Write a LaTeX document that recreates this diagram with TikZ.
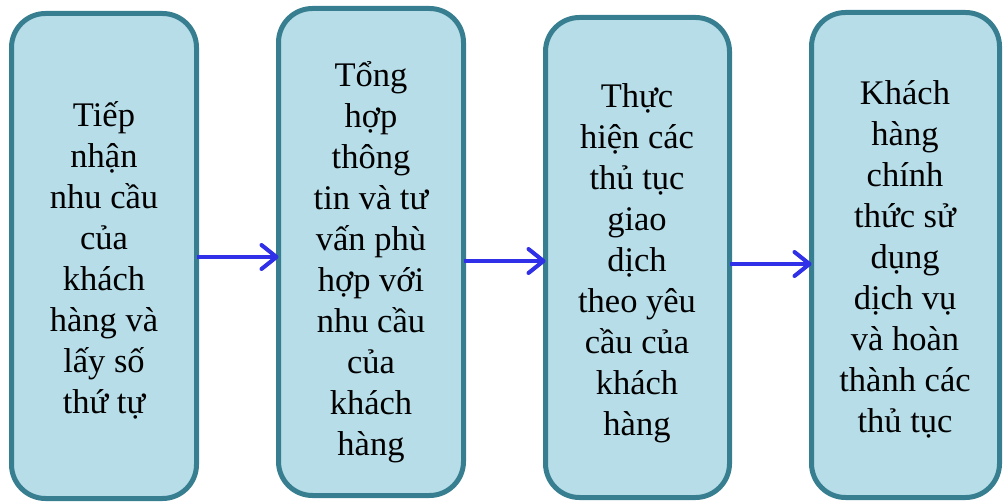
\documentclass[tikz,border=0pt]{standalone}
\usepackage{fontspec}
\setmainfont{Liberation Serif}
\usetikzlibrary{arrows.meta}
\definecolor{boxfill}{HTML}{B7DDE8}
\definecolor{boxline}{HTML}{377F90}
\definecolor{arrowblue}{HTML}{3030E8}
\tikzset{
  stepbox/.style={draw=boxline, fill=boxfill, line width=5pt, rounded corners=34pt,
    rectangle, outer sep=0pt, inner sep=0pt},
  steptext/.style={align=center, font=\fontsize{34.5}{41}\selectfont, inner sep=0pt},
  flow/.style={draw=arrowblue, line width=4pt,
    -{Straight Barb[length=15pt,width=24pt,line cap=round,round]}}
}
\begin{document}
\begin{tikzpicture}[x=1pt,y=1pt]
\useasboundingbox (0,0) rectangle (1003,-502);
% process steps
\node[stepbox, minimum width=185pt, minimum height=485pt] (b1) at (104,-256) {};
\node[stepbox, minimum width=185pt, minimum height=487pt] (b2) at (371,-252) {};
\node[stepbox, minimum width=184pt, minimum height=480pt] (b3) at (637.5,-257.5) {};
\node[stepbox, minimum width=188pt, minimum height=485pt] (b4) at (905.5,-255) {};
% step descriptions
\node[steptext] (t1) at (104,-260) {Tiếp\\nhận\\nhu cầu\\của\\khách\\hàng và\\lấy số\\thứ tự};
\node[steptext] (t2) at (371,-262) {Tổng\\hợp\\thông\\tin và tư\\vấn phù\\hợp với\\nhu cầu\\của\\khách\\hàng};
\node[steptext] (t3) at (637,-263) {Thực\\hiện các\\thủ tục\\giao\\dịch\\theo yêu\\cầu của\\khách\\hàng};
\node[steptext] (t4) at (905,-259) {Khách\\hàng\\chính\\thức sử\\dụng\\dịch vụ\\và hoàn\\thành các\\thủ tục};
% connectors
\draw[flow] (b1.east |- 0,-257) -- (b2.west |- 0,-257);
\draw[flow] (b2.east |- 0,-261) -- (b3.west |- 0,-261);
\draw[flow] (b3.east |- 0,-264) -- (b4.west |- 0,-264);
\end{tikzpicture}
\end{document}
